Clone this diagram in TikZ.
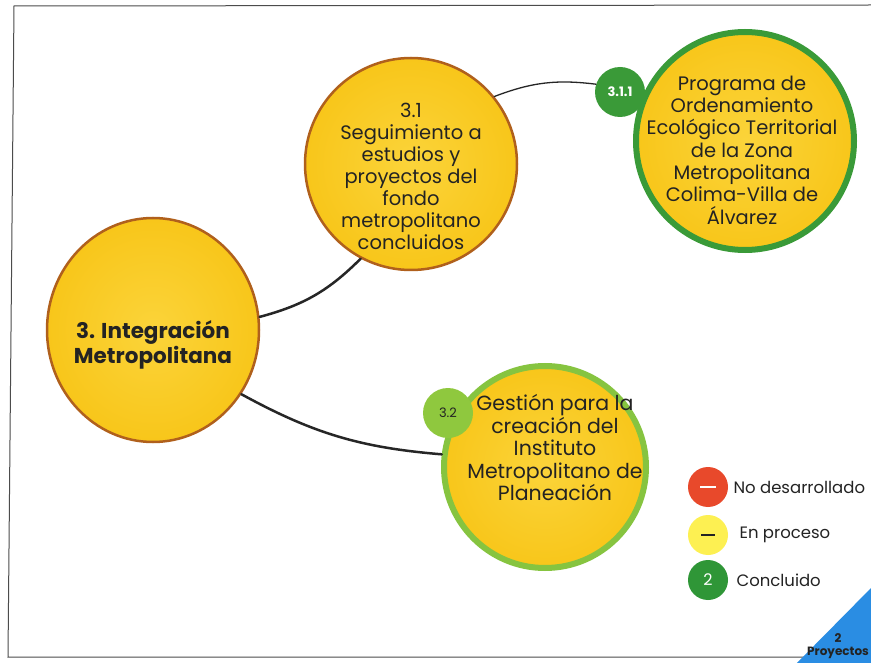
\documentclass[tikz,border=0pt]{standalone}
\usepackage{fontspec}
\setmainfont{Poppins}
\usetikzlibrary{shapes.geometric}
\definecolor{yfill}{HTML}{F8C61A}
\definecolor{yinner}{HTML}{FBD43A}
\definecolor{brownrim}{HTML}{B0601C}
\definecolor{dgreen}{HTML}{3A9A38}
\definecolor{lgreen}{HTML}{86C440}
\definecolor{lgreenb}{HTML}{8FC83E}
\definecolor{legred}{HTML}{E8492B}
\definecolor{legyel}{HTML}{FDF052}
\definecolor{leggreen}{HTML}{2F9637}
\definecolor{tri}{HTML}{2A8DE3}
\definecolor{txt}{HTML}{232323}
\tikzset{
  bigcirc/.style={circle,draw=brownrim,line width=2.5pt,inner color=yinner,outer color=yfill,minimum size=#1,inner sep=0pt},
  greencirc/.style={circle,draw=#1,line width=6pt,inner color=yinner,outer color=yfill,inner sep=0pt},
  badge/.style={circle,fill=#1,minimum size=50pt,inner sep=0pt},
  ctext/.style={align=center,text=txt,font=\fontsize{19.5}{22}\selectfont},
  legdot/.style={circle,fill=#1,minimum size=40pt,inner sep=0pt},
  legtext/.style={anchor=west,text=txt,font=\fontsize{16.5}{19}\selectfont},
  conn/.style={draw=black!85,line cap=round,line width=#1},
}
\begin{document}
\begin{tikzpicture}[x=1pt,y=-1pt]
\useasboundingbox (0,0) rectangle (871,663);
\fill[white] (0,0) rectangle (871,663);
% frame
\draw[black!70,line width=1pt] (871,5) -- (14,6) -- (8,657) -- (871,657);
% blue corner
\begin{scope}
\clip (0,0) rectangle (871,663);
\fill[tri] (874,585) -- (874,666) -- (794,666) -- cycle;
\end{scope}
\node[font=\bfseries\fontsize{12}{13}\selectfont,text=txt,align=center] (tritext) at (838,646) {2\\Proyectos};
% circles
\node[ellipse,draw=brownrim,line width=2.5pt,inner color=yinner,outer color=yfill,minimum width=212pt,minimum height=224pt] (main) at (153,330) {};
\node[bigcirc=212pt] (c31) at (411,164) {};
\node[greencirc=dgreen,minimum size=218pt] (c311) at (745,141) {};
\node[greencirc=lgreen,minimum size=202pt] (c32) at (545,467) {};
% badges
\node[badge=dgreen,text=white,font=\bfseries\fontsize{13}{14}\selectfont] (b311) at (620,92) {3.1.1};
\node[badge=lgreenb,text=txt,font=\fontsize{13}{14}\selectfont] (b32) at (448,413) {3.2};
% texts
\node[align=center,text=txt,font=\bfseries\fontsize{21.5}{25}\selectfont] (tmain) at (153,345) {3. Integración\\Metropolitana};
\node[ctext] (t31) at (411,176) {3.1\\Seguimiento a\\estudios y\\proyectos del\\fondo\\metropolitano\\concluidos};
\node[ctext,font=\fontsize{19.5}{22.3}\selectfont] (t311) at (742,150) {Programa de\\Ordenamiento\\Ecológico Territorial\\de la Zona\\Metropolitana\\Colima-Villa de\\Álvarez};
\node[ctext,font=\fontsize{20.5}{22.5}\selectfont] (t32) at (555,448) {Gestión para la\\creación del\\Instituto\\Metropolitano de\\Planeación};
% connectors
\draw[conn=2.5pt] (main.7) to[bend right=15] (c31.242);
\draw[conn=2.5pt] (main.324) to[bend right=12] (c32.173);
\draw[conn=1.3pt] (c31.39) to[bend left=14] (b311.162);
% legend
\node[legdot=legred] (lr) at (708,487) {};
\draw[white,line width=2pt] (700,487) -- (716,487);
\node[legtext] (lrt) at (730,487) {No desarrollado};
\node[legdot=legyel] (ly) at (708,535) {};
\draw[txt,line width=1.8pt] (701,535) -- (715,535);
\node[legtext] (lyt) at (736,535) {En proceso};
\node[legdot=leggreen,text=white,font=\fontsize{16}{18}\selectfont] (lg) at (708,580) {2};
\node[legtext] (lgt) at (733,580) {Concluido};
\end{tikzpicture}
\end{document}
